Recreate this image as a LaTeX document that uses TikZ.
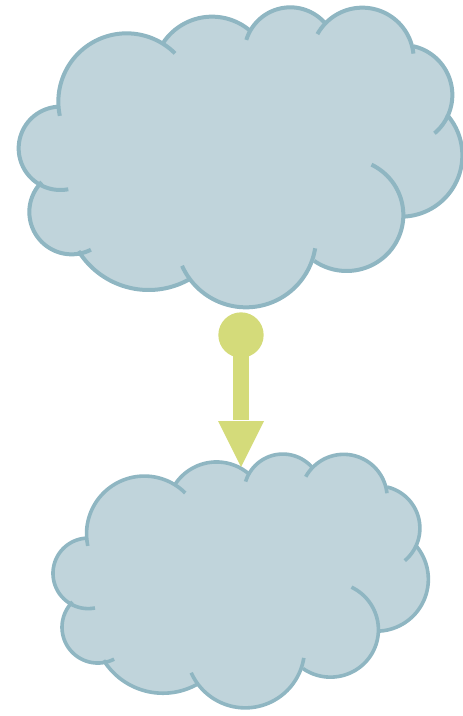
\documentclass[tikz,border=0pt]{standalone}
\definecolor{cloudfill}{HTML}{C0D4DB}
\definecolor{cloudline}{HTML}{8FB6C2}
\definecolor{arrowcol}{HTML}{D4DB7A}
\tikzset{
  cloudface/.style={fill=cloudfill},
  cloudedge/.style={draw=cloudline,line width=#1,line join=round},
  arrowpart/.style={fill=arrowcol},
  zoomgrid/.style={x=0.25pt,y=-0.25pt}
}
\newcommand{\lobe}[6]{plot[domain=#5:#6,samples=70] ({#1+#3*cos(\x)},{#2+#4*sin(\x)})}
\def\lA{\lobe{380}{305}{205}{205}{168}{315}}
\def\lB{\lobe{636}{226}{176}{176}{214}{310}}
\def\lC{\lobe{871}{160}{138}{138}{197}{319}}
\def\lD{\lobe{1087}{177}{154}{154}{209}{354}}
\def\lE{\lobe{1207}{285}{150}{150}{-77}{50}}
\def\lF{\lobe{1203}{466}{184}{184}{-41.5}{88}}
\def\lG{\lobe{1040}{645}{170}{168}{-64}{125}}
\def\lH{\lobe{738}{712}{210}{210}{9}{156}}
\def\lI{\lobe{446}{622}{248}{248}{61}{148}}
\def\lJ{\lobe{215}{636}{127}{127}{63}{225}}
\def\lK{\lobe{181}{445}{125}{125}{79}{269}}
\newcommand{\cloudoutline}[1]{%
  \coordinate (mid) at (700,450);
  \fill[cloudface] \lA -- (mid) -- cycle \lB -- (mid) -- cycle \lC -- (mid) -- cycle \lD -- (mid) -- cycle
    \lE -- (mid) -- cycle \lF -- (mid) -- cycle \lG -- (mid) -- cycle \lH -- (mid) -- cycle
    \lI -- (mid) -- cycle \lJ -- (mid) -- cycle \lK -- (mid) -- cycle;
  \draw[cloudedge=#1] \lA;
  \draw[cloudedge=#1] \lB;
  \draw[cloudedge=#1] \lC;
  \draw[cloudedge=#1] \lD;
  \draw[cloudedge=#1] \lE;
  \draw[cloudedge=#1] \lF;
  \draw[cloudedge=#1] \lG;
  \draw[cloudedge=#1] \lH;
  \draw[cloudedge=#1] \lI;
  \draw[cloudedge=#1] \lJ;
  \draw[cloudedge=#1] \lK;
}
\begin{document}
\begin{tikzpicture}[x=0.75pt,y=-0.75pt]
\useasboundingbox (0,0) rectangle (463,716);
\begin{scope}[zoomgrid]
  \cloudoutline{3pt}
\end{scope}
\begin{scope}[xshift=27.9pt,yshift=-335.9pt,scale=0.846,zoomgrid]
  \cloudoutline{2.7pt}
\end{scope}
\fill[arrowpart] (241,335) circle [radius=17pt];
\fill[arrowpart] (233,350) rectangle (249,420);
\fill[arrowpart] (218,421) -- (264,421) -- (241,467) -- cycle;
\end{tikzpicture}
\end{document}
